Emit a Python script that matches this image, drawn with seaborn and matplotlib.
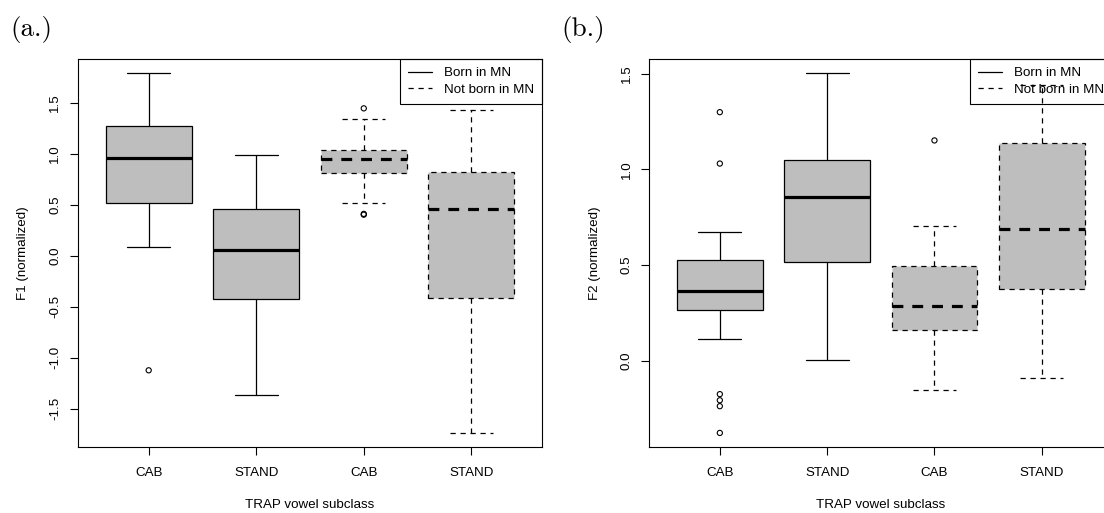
import numpy as np
import pandas as pd
import matplotlib
matplotlib.use("Agg")
import matplotlib.pyplot as plt
from matplotlib.lines import Line2D
import seaborn as sns

# Groups along the x axis: TRAP subclass x speaker birthplace
subclasses = ["CAB", "STAND", "CAB", "STAND"]
birthplace = ["Born in MN", "Born in MN", "Not born in MN", "Not born in MN"]

# F1 (normalized): lower whisker, Q1, median, Q3, upper whisker per group
f1_low = [0.085, -1.363, 0.520, -1.738]
f1_q1 = [0.517, -0.425, 0.814, -0.415]
f1_med = [0.955, 0.056, 0.951, 0.458]
f1_q3 = [1.269, 0.458, 1.033, 0.824]
f1_high = [1.788, 0.987, 1.340, 1.425]
f1_outliers = [[-1.124], [], [1.445, 0.410, 0.402], []]

# F2 (normalized)
f2_low = [0.115, 0.005, -0.152, -0.091]
f2_q1 = [0.265, 0.515, 0.162, 0.373]
f2_med = [0.363, 0.857, 0.283, 0.690]
f2_q3 = [0.527, 1.051, 0.496, 1.141]
f2_high = [0.675, 1.503, 0.702, 1.440]
f2_outliers = [[1.300, 1.031, -0.176, -0.208, -0.239, -0.379], [], [1.152], []]

f1_ticks = [-1.5, -1.0, -0.5, 0.0, 0.5, 1.0, 1.5]
f2_ticks = [0.0, 0.5, 1.0, 1.5]

sns.set_theme(style="ticks")
plt.rcParams.update({
    "font.family": ["Liberation Sans", "DejaVu Sans"],
    "axes.unicode_minus": False,
    "axes.edgecolor": "black",
    "axes.linewidth": 0.8,
    "xtick.color": "black",
    "ytick.color": "black",
    "axes.labelcolor": "black",
    "text.color": "black",
})

FS = 9.6
GRAY = "#BEBEBE"
THIN = 0.9
THICK = 2.3
DASH = (0, (4.2, 3.8))
MDASH = (0, (3.4, 2.8))

W, H = 1104, 513
fig = plt.figure(figsize=(W / 100, H / 100), dpi=100)
ax_a = fig.add_axes([77.7 / W, (H - 447.3) / H, 464.6 / W, 388.3 / H])
ax_b = fig.add_axes([649.0 / W, (H - 447.3) / H, 463.6 / W, 388.3 / H])


def draw_panel(ax, low, q1, med, q3, high, outliers, ylabel, yticks):
    rows = []
    for i in range(len(subclasses)):
        for v in (low[i], q1[i], med[i], q3[i], high[i]):
            rows.append({"pos": i + 1, "value": v, "group": birthplace[i]})
    df = pd.DataFrame(rows)

    for grp, ls, mls in [("Born in MN", "-", "-"), ("Not born in MN", DASH, MDASH)]:
        sub = df[df["group"] == grp]
        sns.boxplot(
            data=sub, x="pos", y="value", orient="x", native_scale=True,
            whis=(0, 100), width=0.8, color=GRAY, saturation=1,
            linecolor="black", linewidth=THIN, fliersize=0, ax=ax,
            boxprops=dict(linestyle=ls),
            whiskerprops=dict(linestyle=ls),
            capprops=dict(linestyle=ls),
            medianprops=dict(linestyle=mls, linewidth=THICK),
        )

    ox, oy = [], []
    for i, vals in enumerate(outliers):
        ox += [i + 1] * len(vals)
        oy += vals
    sns.scatterplot(x=ox, y=oy, marker="o", s=14, color="none",
                    edgecolor="black", linewidth=0.8, ax=ax, zorder=4)

    allv = np.concatenate([low, high, oy])
    lo, hi = allv.min(), allv.max()
    pad = 0.04 * (hi - lo)
    ax.set_ylim(lo - pad, hi + pad)
    n = len(subclasses)
    ax.set_xlim(0.5 - 0.04 * n, n + 0.5 + 0.04 * n)

    ax.set_xticks(range(1, n + 1))
    ax.set_xticklabels(subclasses, fontsize=FS)
    ax.set_yticks(yticks)
    ax.set_yticklabels([f"{t:.1f}" for t in yticks], fontsize=FS, rotation=90,
                       va="center")
    ax.tick_params(axis="x", length=5.5, width=0.8, pad=8.5)
    ax.tick_params(axis="y", length=5.5, width=0.8, pad=6.4)
    for s in ax.spines.values():
        s.set_visible(True)
        s.set_color("black")
        s.set_linewidth(0.8)

    ax.set_xlabel("TRAP vowel subclass", fontsize=FS)
    ax.set_ylabel(ylabel, fontsize=FS)
    ax.xaxis.set_label_coords(0.5, -0.133)
    ax.yaxis.set_label_coords(-0.104, 0.5)

    handles = [Line2D([], [], color="black", lw=THIN, ls="-"),
               Line2D([], [], color="black", lw=THIN, ls=DASH)]
    leg = ax.legend(handles, ["Born in MN", "Not born in MN"], loc="upper right",
                    bbox_to_anchor=(1, 1), borderaxespad=0, frameon=True,
                    fancybox=False, edgecolor="black", facecolor="white",
                    framealpha=1, fontsize=FS, handlelength=1.8,
                    handletextpad=0.93, borderpad=0.6, labelspacing=0.3)
    leg.get_frame().set_linewidth(0.8)
    leg.set_zorder(1.5)


draw_panel(ax_a, f1_low, f1_q1, f1_med, f1_q3, f1_high, f1_outliers,
           "F1 (normalized)", f1_ticks)
draw_panel(ax_b, f2_low, f2_q1, f2_med, f2_q3, f2_high, f2_outliers,
           "F2 (normalized)", f2_ticks)

fig.text(10 / W, 1 - 36.4 / H, "(a.)", family="cmr10", fontsize=19.5, va="baseline")
fig.text(561.6 / W, 1 - 36.4 / H, "(b.)", family="cmr10", fontsize=19.5, va="baseline")

fig.savefig("out.png", dpi=100)
